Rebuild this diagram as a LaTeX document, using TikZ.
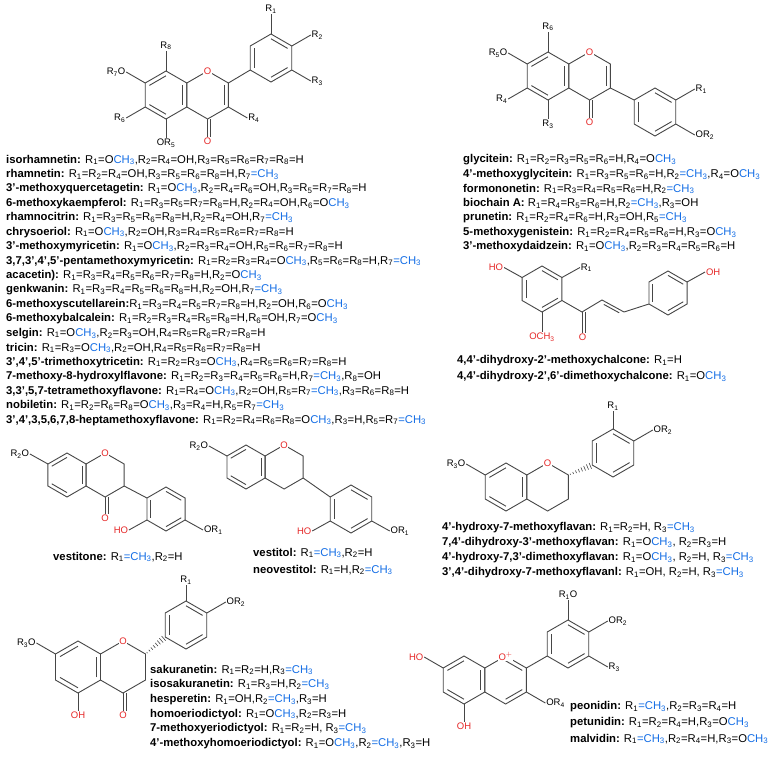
\documentclass[tikz,border=0pt]{standalone}
\usepackage{fontspec}
\setmainfont{Liberation Sans}
\usetikzlibrary{calc}
\definecolor{cb}{RGB}{20,110,230}
\definecolor{cr}{RGB}{230,40,40}
\definecolor{bd}{RGB}{70,70,70}
\newcommand\R[1]{R\textsubscript{#1}}
\newcommand\OM{O\textcolor{cb}{CH\textsubscript{3}}}
\newcommand\CM{\textcolor{cb}{=CH\textsubscript{3}}}
\newcommand\ring[4]{%
 \coordinate (#1c) at ({#2},{#3});
 \coordinate (#1t) at ({#2},{#3-#4});
 \coordinate (#1b) at ({#2},{#3+#4});
 \coordinate (#1ul) at ({#2-0.866*#4},{#3-0.5*#4});
 \coordinate (#1ll) at ({#2-0.866*#4},{#3+0.5*#4});
 \coordinate (#1ur) at ({#2+0.866*#4},{#3-0.5*#4});
 \coordinate (#1lr) at ({#2+0.866*#4},{#3+0.5*#4});
 \draw[bond] (#1t)--(#1ur)--(#1lr)--(#1b)--(#1ll)--(#1ul)--cycle;}
\newcommand\inn[3]{\draw[bond] ($(#1)!0.2!(#3)$) -- ($(#2)!0.2!(#3)$);}
\newcommand\hash[2]{\foreach \q in {0.08,0.2,...,0.95}{\pgfmathsetmacro\ww{0.4+3*\q}
 \draw[bond,line width=0.6pt] ($(#1)!\q!(#2)!\ww pt!90:(#2)$) -- ($(#1)!\q!(#2)!\ww pt!-90:(#2)$);}}
\begin{document}
\begin{tikzpicture}[x=1pt,y=-1pt,
 bond/.style={draw=bd,line width=0.9pt},
 lab/.style={font=\fontsize{9.5}{10}\selectfont,inner sep=0.5pt},
 rO/.style={lab,text=cr,fill=white},
 captxt/.style={anchor=west,inner sep=0pt,font=\fontsize{11.3}{12}\selectfont}]
\useasboundingbox (0,0) rectangle (784,756);
\fill[white] (0,0) rectangle (784,756);
%% ---------- flavone ----------
\ring{A}{166}{95}{24}\ring{C}{207.6}{95}{24}\ring{B}{271}{58}{24}
\inn{At}{Aul}{Ac}\inn{All}{Ab}{Ac}\inn{Alr}{Aur}{Ac}
\inn{Cur}{Clr}{Cc}
\inn{Bt}{Bur}{Bc}\inn{Blr}{Bb}{Bc}\inn{Bll}{Bul}{Bc}
\draw[bond] (Cur)--(Bll);
\node[rO] (o1) at (Ct) {O};
\coordinate (k1) at (207.6,138);
\draw[bond] (Cb)--(k1) ([xshift=3]Cb)--([xshift=3]k1);
\node[rO,anchor=north] (ok1) at (207.6,137) {O};
\draw[bond] (At)--++(0,-20) node[lab,anchor=south] (r8) {\R8};
\draw[bond] (Aul)--++(-19,-11) node[lab,anchor=east] (r7) {\R7O};
\draw[bond] (All)--++(-19,11) node[lab,anchor=east] (r6) {\R6};
\draw[bond] (Ab)--++(0,19) node[lab,anchor=north] (r5) {O\R5};
\draw[bond] (Clr)--++(19,11) node[lab,anchor=west] (r4) {\R4};
\draw[bond] (Bt)--++(0,-20) node[lab,anchor=south] (r1) {\R1};
\draw[bond] (Bur)--++(19,-11) node[lab,anchor=west] (r2) {\R2};
\draw[bond] (Blr)--++(19,11) node[lab,anchor=west] (r3) {\R3};
%% captions left
\foreach \t [count=\i from 0] in {
{\textbf{isorhamnetin:} \R1=\OM,\R2=\R4=OH,\R3=\R5=\R6=\R7=\R8=H},
{\textbf{rhamnetin:} \R1=\R2=\R4=OH,\R3=\R5=\R6=\R8=H,\R7\CM},
{\textbf{3'-methoxyquercetagetin:} \R1=\OM,\R2=\R4=\R6=OH,\R3=\R5=\R7=\R8=H},
{\textbf{6-methoxykaempferol:} \R1=\R3=\R5=\R7=\R8=H,\R2=\R4=OH,\R6=\OM},
{\textbf{rhamnocitrin:} \R1=\R3=\R5=\R6=\R8=H,\R2=\R4=OH,\R7\CM},
{\textbf{chrysoeriol:} \R1=\OM,\R2=OH,\R3=\R4=\R5=\R6=\R7=\R8=H},
{\textbf{3'-methoxymyricetin:} \R1=\OM,\R2=\R3=\R4=OH,\R5=\R6=\R7=\R8=H},
{\textbf{3,7,3',4',5'-pentamethoxymyricetin:} \R1=\R2=\R3=\R4=\OM,\R5=\R6=\R8=H,\R7\CM},
{\textbf{acacetin):} \R1=\R3=\R4=\R5=\R6=\R7=\R8=H,\R2=\OM},
{\textbf{genkwanin:} \R1=\R3=\R4=\R5=\R6=\R8=H,\R2=OH,\R7\CM},
{\textbf{6-methoxyscutellarein:}\R1=\R3=\R4=\R5=\R7=\R8=H,\R2=OH,\R6=\OM},
{\textbf{6-methoxybalcalein:} \R1=\R2=\R3=\R4=\R5=\R8=H,\R6=OH,\R7=\OM},
{\textbf{selgin:} \R1=\OM,\R2=\R3=OH,\R4=\R5=\R6=\R7=\R8=H},
{\textbf{tricin:} \R1=\R3=\OM,\R2=OH,\R4=\R5=\R6=\R7=\R8=H},
{\textbf{3',4',5'-trimethoxytricetin:} \R1=\R2=\R3=\OM,\R4=\R5=\R6=\R7=\R8=H},
{\textbf{7-methoxy-8-hydroxylflavone:} \R1=\R2=\R3=\R4=\R5=\R6=H,\R7\CM,\R8=OH},
{\textbf{3,3',5,7-tetramethoxyflavone:} \R1=\R4=\OM,\R2=OH,\R5=\R7\CM,\R3=\R6=\R8=H},
{\textbf{nobiletin:} \R1=\R2=\R6=\R8=\OM,\R3=\R4=H,\R5=\R7\CM},
{\textbf{3',4',3,5,6,7,8-heptamethoxyflavone:} \R1=\R2=\R4=\R6=\R8=\OM,\R3=H,\R5=\R7\CM}}
{\node[captxt] (L\i) at (6,{160+14.45*\i}) {\t};}
%% ---------- isoflavone ----------
\ring{D}{548}{76}{24}\ring{E}{589.6}{76}{24}\ring{F}{655}{112}{24}
\inn{Dt}{Dul}{Dc}\inn{Dll}{Db}{Dc}\inn{Dlr}{Dur}{Dc}
\inn{Eur}{Elr}{Ec}
\inn{Ft}{Fur}{Fc}\inn{Flr}{Fb}{Fc}\inn{Fll}{Ful}{Fc}
\draw[bond] (Elr)--(Ful);
\node[rO] (o2) at (Et) {O};
\coordinate (k2) at (589.6,119);
\draw[bond] (Eb)--(k2) ([xshift=3]Eb)--([xshift=3]k2);
\node[rO,anchor=north] (ok2) at (589.6,118) {O};
\draw[bond] (Dt)--++(0,-20) node[lab,anchor=south] (s6) {\R6};
\draw[bond] (Dul)--++(-19,-11) node[lab,anchor=east] (s5) {\R5O};
\draw[bond] (Dll)--++(-19,11) node[lab,anchor=east] (s4) {\R4};
\draw[bond] (Db)--++(0,19) node[lab,anchor=north] (s3) {\R3};
\draw[bond] (Fur)--++(19,-11) node[lab,anchor=west] (s1) {\R1};
\draw[bond] (Flr)--++(19,11) node[lab,anchor=west] (s2) {O\R2};
\foreach \t [count=\i from 0] in {
{\textbf{glycitein:} \R1=\R2=\R3=\R5=\R6=H,\R4=\OM},
{\textbf{4'-methoxyglycitein:} \R1=\R3=\R5=\R6=H,\R2\CM,\R4=\OM},
{\textbf{formononetin:} \R1=\R3=\R4=\R5=\R6=H,\R2\CM},
{\textbf{biochain A:} \R1=\R4=\R5=\R6=H,\R2\CM,\R3=OH},
{\textbf{prunetin:} \R1=\R2=\R4=\R6=H,\R3=OH,\R5\CM},
{\textbf{5-methoxygenistein:} \R1=\R2=\R4=\R5=\R6=H,\R3=\OM},
{\textbf{3'-methoxydaidzein:} \R1=\OM,\R2=\R3=\R4=\R5=\R6=H}}
{\node[captxt] (M\i) at (463,{160+14.5*\i}) {\t};}
%% ---------- chalcone ----------
\ring{G}{542}{289}{23}\ring{H}{668}{293}{22}
\inn{Gt}{Gur}{Gc}\inn{Glr}{Gb}{Gc}\inn{Gll}{Gul}{Gc}
\inn{Ht}{Hur}{Hc}\inn{Hlr}{Hb}{Hc}\inn{Hll}{Hul}{Hc}
\coordinate (ck) at (582,312);\coordinate (ca) at (602,300);\coordinate (cbt) at (624,312);
\draw[bond] (Glr)--(ck)--(ca)--(cbt)--(Hll);
\draw[bond] ($(ca)!0.15!(cbt)!3pt!-90:(cbt)$)--($(cbt)!0.15!(ca)!3pt!90:(ca)$);
\coordinate (k3) at (582,333);
\draw[bond] (ck)--(k3) ([xshift=3]ck)--([xshift=3]k3);
\node[rO,anchor=north] (ok3) at (582.5,333) {O};
\draw[bond] (Gb)--++(0,20) node[rO,anchor=north] (om3) {OCH\textsubscript{3}};
\draw[bond] (Gul)--++(-18,-10) node[rO,anchor=east] (ho3) {HO};
\draw[bond] (Gur)--++(18,-10) node[lab,anchor=west] (t1) {\R1};
\draw[bond] (Hur)--++(18,-10) node[rO,anchor=west] (oh3) {OH};
\node[captxt] (N0) at (457,361) {\textbf{4,4'-dihydroxy-2'-methoxychalcone:} \R1=H};
\node[captxt] (N1) at (457,377) {\textbf{4,4'-dihydroxy-2',6'-dimethoxychalcone:} \R1=\OM};
%% ---------- vestitone ----------
\ring{I}{67}{475}{22}\ring{J}{105.1}{475}{22}\ring{K}{166}{509}{22}
\inn{It}{Iul}{Ic}\inn{Ill}{Ib}{Ic}\inn{Ilr}{Iur}{Ic}
\inn{Kt}{Kur}{Kc}\inn{Klr}{Kb}{Kc}\inn{Kll}{Kul}{Kc}
\draw[bond] (Jlr)--(Kul);
\node[rO] (o4) at (Jt) {O};
\coordinate (k4) at (105.1,514);
\draw[bond] (Jb)--(k4) ([xshift=3]Jb)--([xshift=3]k4);
\node[rO,anchor=north] (ok4) at (105.1,514) {O};
\draw[bond] (Iul)--++(-18,-10) node[lab,anchor=east] (u2) {\R2O};
\draw[bond] (Kll)--++(-18,10) node[rO,anchor=east] (ho4) {HO};
\draw[bond] (Klr)--++(18,10) node[lab,anchor=west] (u1) {O\R1};
\node[captxt] (P0) at (53,557) {\textbf{vestitone:} \R1\CM,\R2=H};
%% ---------- vestitol ----------
\ring{Q}{246}{467}{22}\ring{S}{284.1}{467}{22}\ring{T}{351}{509}{24}
\inn{Qt}{Qul}{Qc}\inn{Qll}{Qb}{Qc}\inn{Qlr}{Qur}{Qc}
\inn{Tt}{Tur}{Tc}\inn{Tlr}{Tb}{Tc}\inn{Tll}{Tul}{Tc}
\draw[bond] (Slr)--(Tul);
\node[rO] (o5) at (St) {O};
\draw[bond] (Qul)--++(-18,-10) node[lab,anchor=east] (v2) {\R2O};
\draw[bond] (Tll)--++(-18,10) node[rO,anchor=east] (ho5) {HO};
\draw[bond] (Tlr)--++(18,10) node[lab,anchor=west] (v1) {O\R1};
\node[captxt] (P1) at (253,553) {\textbf{vestitol:} \R1\CM,\R2=H};
\node[captxt] (P2) at (253,570) {\textbf{neovestitol:} \R1=H,\R2\CM};
%% ---------- flavan ----------
\ring{U}{506}{487}{24}\ring{V}{547.6}{487}{24}\ring{W}{613}{453}{24}
\inn{Ut}{Uul}{Uc}\inn{Ull}{Ub}{Uc}\inn{Ulr}{Uur}{Uc}
\inn{Wt}{Wur}{Wc}\inn{Wlr}{Wb}{Wc}\inn{Wll}{Wul}{Wc}
\hash{Vur}{Wll}
\node[rO] (o6) at (Vt) {O};
\draw[bond] (Uul)--++(-19,-11) node[lab,anchor=east] (w3) {\R3O};
\draw[bond] (Wt)--++(0,-18) node[lab,anchor=south] (w1) {\R1};
\draw[bond] (Wur)--++(19,-11) node[lab,anchor=west] (w2) {O\R2};
\foreach \t [count=\i from 0] in {
{\textbf{4'-hydroxy-7-methoxyflavan:} \R1=\R2=H, \R3\CM},
{\textbf{7,4'-dihydroxy-3'-methoxyflavan:} \R1=\OM, \R2=\R3=H},
{\textbf{4'-hydroxy-7,3'-dimethoxyflavan:} \R1=\OM, \R2=H, \R3\CM},
{\textbf{3',4'-dihydroxy-7-methoxyflavanl:} \R1=OH, \R2=H, \R3\CM}}
{\node[captxt] (X\i) at (442,{528+15*\i}) {\t};}
%% ---------- flavanone ----------
\ring{Y}{78}{667}{26}\ring{Z}{123}{667}{26}\ring{BB}{186}{625}{24}
\inn{Yt}{Yul}{Yc}\inn{Yll}{Yb}{Yc}\inn{Ylr}{Yur}{Yc}
\inn{BBt}{BBur}{BBc}\inn{BBlr}{BBb}{BBc}\inn{BBll}{BBul}{BBc}
\hash{Zur}{BBll}
\node[rO] (o7) at (Zt) {O};
\coordinate (k7) at (123,711);
\draw[bond] (Zb)--(k7) ([xshift=3]Zb)--([xshift=3]k7);
\node[rO,anchor=north] (ok7) at (123,711) {O};
\draw[bond] (Yb)--++(0,18) node[rO,anchor=north] (oh7) {OH};
\draw[bond] (Yul)--++(-19,-11) node[lab,anchor=east] (y3) {\R3O};
\draw[bond] (BBt)--++(0,-16) node[lab,anchor=south] (y1) {\R1};
\draw[bond] (BBur)--++(19,-11) node[lab,anchor=west] (y2) {O\R2};
\foreach \t [count=\i from 0] in {
{\textbf{sakuranetin:} \R1=\R2=H,\R3\CM},
{\textbf{isosakuranetin:} \R1=\R3=H,\R2\CM},
{\textbf{hesperetin:} \R1=OH,\R2\CM,\R3=H},
{\textbf{homoeriodictyol:} \R1=\OM,\R2=\R3=H},
{\textbf{7-methoxyeriodictyol:} \R1=\R2=H, \R3\CM},
{\textbf{4'-methoxyhomoeriodictyol:} \R1=\OM,\R2\CM,\R3=H}}
{\node[captxt] (Zc\i) at (150,{670+14.7*\i}) {\t};}
%% ---------- anthocyanidin ----------
\ring{AA}{464}{680}{24}\ring{CC}{505.6}{680}{24}\ring{DD}{568}{644}{24}
\inn{AAt}{AAul}{AAc}\inn{AAll}{AAb}{AAc}\inn{AAlr}{AAur}{AAc}
\inn{CCt}{CCur}{CCc}\inn{CClr}{CCb}{CCc}
\inn{DDt}{DDur}{DDc}\inn{DDlr}{DDb}{DDc}\inn{DDll}{DDul}{DDc}
\draw[bond] (CCur)--(DDll);
\node[rO] (o8) at (CCt) {O$^{+}$};
\draw[bond] (AAb)--++(0,18) node[rO,anchor=north] (oh8) {OH};
\draw[bond] (AAul)--++(-19,-11) node[rO,anchor=east] (ho8) {HO};
\draw[bond] (CClr)--++(19,11) node[lab,anchor=west] (z4) {O\R4};
\draw[bond] (DDt)--++(0,-20) node[lab,anchor=south] (z1) {\R1O};
\draw[bond] (DDur)--++(19,-11) node[lab,anchor=west] (z2) {O\R2};
\draw[bond] (DDlr)--++(19,11) node[lab,anchor=west] (z3) {\R3};
\node[captxt] (Q0) at (570,707) {\textbf{peonidin:} \R1\CM,\R2=\R3=\R4=H};
\node[captxt] (Q1) at (570,723) {\textbf{petunidin:} \R1=\R2=\R4=H,\R3=\OM};
\node[captxt] (Q2) at (570,739) {\textbf{malvidin:} \R1\CM,\R2=\R4=H,\R3=\OM};
\end{tikzpicture}
\end{document}
